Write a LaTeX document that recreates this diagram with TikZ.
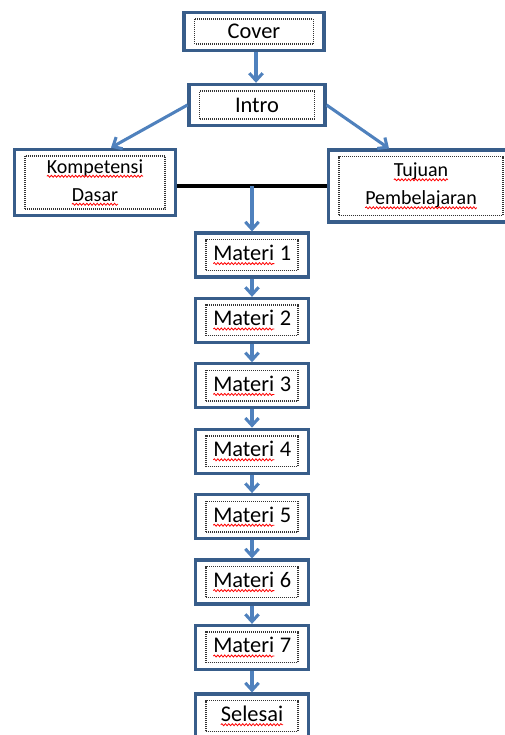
\documentclass[tikz,border=0pt]{standalone}
\usepackage{fontspec}
\setmainfont{Carlito}
\usetikzlibrary{arrows.meta, calc, decorations.pathmorphing}
\definecolor{boxblue}{RGB}{56,93,138}
\definecolor{arrowblue}{RGB}{79,129,189}
\newcommand{\SpellWave}[1]{\tikz[baseline=(w.base)]{%
    \node[inner sep=0pt, outer sep=0pt, draw=none, fill=none,
        minimum width=0pt, minimum height=0pt, path picture={}] (w) {#1};
    \draw[red, line width=0.6pt, decorate,
        decoration={snake, amplitude=0.75pt, segment length=2.6pt}]
        ([yshift=-2.4pt]w.base west) -- ([yshift=-2.4pt]w.base east);}}
\tikzset{
    stagebox/.style n args={2}{draw=boxblue, line width=2.3pt, fill=white,
        minimum width=#1, minimum height=#2, inner sep=0pt,
        font=\fontsize{16.8}{20}\selectfont,
        path picture={\draw[black!80, line width=1.1pt, dash pattern=on 0.75pt off 0.75pt]
            ([shift={(8pt,5pt)}]path picture bounding box.south west) rectangle
            ([shift={(-8pt,-5pt)}]path picture bounding box.north east);}},
    flow/.style={draw=arrowblue, line width=2.3pt, -{Straight Barb[length=5.5pt, width=10pt]}},
}

\begin{document}
\begin{tikzpicture}[x=0.75pt, y=-0.75pt]
    \useasboundingbox (0,0) rectangle (505,735);

    % top of the flow
    \node[stagebox={105pt}{29pt}] (cover) at (254,31.5) {Cover};
    \node[stagebox={102pt}{31pt}] (intro) at (257,105) {Intro};
    \node[stagebox={121pt}{50pt}, align=center, font=\fontsize{15}{21}\selectfont]
        (kd) at (95,182.5) {\SpellWave{Kompetensi}\\\SpellWave{Dasar}};
    \node[stagebox={139pt}{54pt}, align=center, font=\fontsize{15}{21}\selectfont]
        (tj) at (421,186) {\SpellWave{Tujuan}\\\SpellWave{Pembelajaran}};

    \draw[flow] ([xshift=1.5pt]cover.south) -- ([xshift=1.5pt]cover.south |- intro.north);
    \draw[flow] (intro.west) -- ([xshift=12pt]kd.north);
    \draw[flow] (intro.east) -- ([xshift=-24pt]tj.north);
    \draw[black, line width=2.3pt] (kd.east |- tj.west) -- (tj.west);

    % materi chain
    \foreach \k in {1,...,7} {
        \node[stagebox={85pt}{33pt}] (m\k) at (252,{255+65.4*(\k-1)}) {\SpellWave{Materi} \k};
    }
    \node[stagebox={85pt}{33pt}] (done) at (252,716) {\SpellWave{Selesai}};

    \draw[flow] (m1.north |- tj.west) -- (m1.north);
    \foreach \k [count=\n from 2] in {1,...,6} {
        \draw[flow] (m\k) -- (m\n);
    }
    \draw[flow] (m7) -- (done);
\end{tikzpicture}
\end{document}
